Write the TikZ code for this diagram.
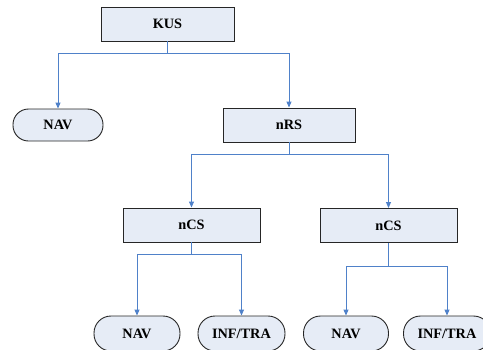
\documentclass[tikz,border=0pt]{standalone}
\usepackage{fontspec}
\setmainfont{Liberation Serif}
\usetikzlibrary{arrows.meta}
\definecolor{boxfill}{RGB}{230,236,246}
\definecolor{linkblue}{RGB}{79,129,201}
\tikzset{
  box/.style={draw=black!85, line width=0.9pt, fill=boxfill, minimum height=34pt, inner sep=0pt, font=\bfseries\fontsize{14.3}{16}\selectfont},
  term/.style={draw=black!85, line width=0.9pt, fill=boxfill, minimum height=32pt, rounded corners=15.5pt, inner sep=0pt, font=\bfseries\fontsize{14.3}{16}\selectfont},
  conn/.style={draw=linkblue, line width=0.9pt, -{Triangle[length=6pt,width=5pt]}}
}
\begin{document}
\begin{tikzpicture}[x=1pt,y=-1pt]
\useasboundingbox (0,0) rectangle (483,349);
\clip (0,0) rectangle (483,349);
\node[box, minimum width=133pt] (kus) at (167.5,24) {KUS};
\node[term, minimum width=90pt] (nav1) at (58,125) {NAV};
\node[box, minimum width=132pt] (nrs) at (289,125) {nRS};
\node[box, minimum width=137pt] (ncs1) at (191.5,225) {nCS};
\node[box, minimum width=137pt] (ncs2) at (388.5,225.5) {nCS};
\node[term, minimum width=86pt, minimum height=35pt, rounded corners=17pt] (nav2) at (137,333.5) {NAV};
\node[term, minimum width=87pt, minimum height=35pt, rounded corners=17pt] (inf1) at (241.5,333.5) {INF/TRA};
\node[term, minimum width=85pt, minimum height=35pt, rounded corners=17pt] (nav3) at (346,333.5) {NAV};
\node[term, minimum width=87pt, minimum height=35pt, rounded corners=17pt] (inf2) at (447,333.5) {INF/TRA};
\draw[conn] (kus.south) -- ++(0,12) -| (nav1.north);
\draw[conn] (kus.south) -- ++(0,12) -| (nrs.north);
\draw[conn] (nrs.south) -- ++(0,12) -| (ncs1.north);
\draw[conn] (nrs.south) -- ++(0,12) -| (ncs2.north);
\draw[conn] (ncs1.south) -- ++(0,12) -| (nav2.north);
\draw[conn] (ncs1.south) -- ++(0,12) -| (inf1.north);
\draw[conn] (ncs2.south) -- ++(0,23) -| (nav3.north);
\draw[conn] (ncs2.south) -- ++(0,23) -| (inf2.north);
\end{tikzpicture}
\end{document}
